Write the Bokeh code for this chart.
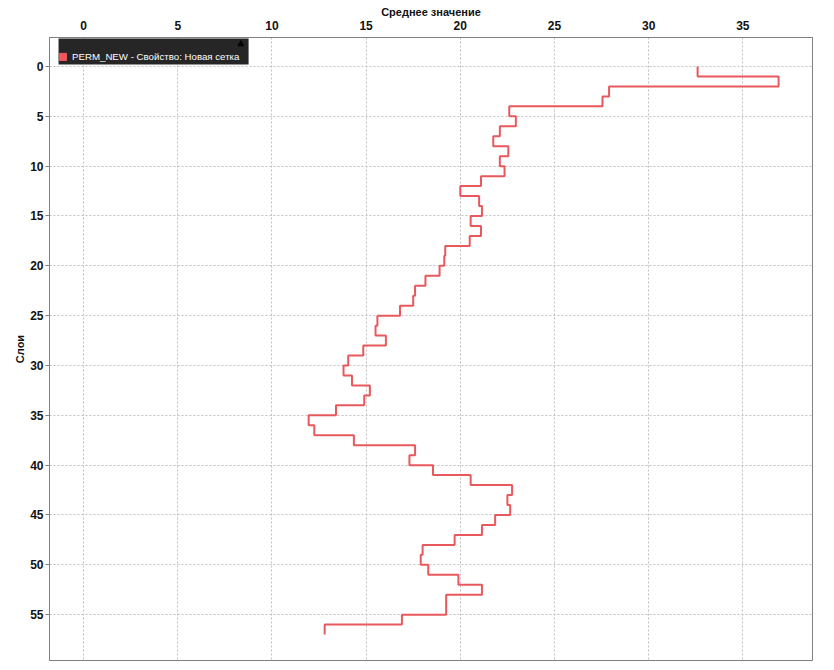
import numpy as np
from bokeh.plotting import figure
from bokeh.models import Range1d, FixedTicker, Legend, LegendItem, BoxAnnotation
from bokeh.embed import file_html
from bokeh.resources import INLINE

# ---- data ----
series_name = "PERM_NEW - Свойство: Новая сетка"
x_title = "Среднее значение"
y_title = "Слои"
x_ticks = [0, 5, 10, 15, 20, 25, 30, 35]
y_ticks = [0, 5, 10, 15, 20, 25, 30, 35, 40, 45, 50, 55]
layer_edges = list(range(0, 58))  # layer boundaries 0..57
mean_values = [
    32.6, 36.9, 27.9, 27.55, 22.6, 22.95, 22.1, 21.75, 22.55, 22.1,
    22.35, 21.1, 20.0, 21.0, 21.15, 20.55, 21.1, 20.5, 19.2, 19.15,
    18.9, 18.15, 17.6, 17.5, 16.8, 15.6, 15.5, 16.05, 14.85, 14.05,
    13.8, 14.25, 15.2, 14.9, 13.4, 11.95, 12.25, 14.35, 17.6, 17.3,
    18.55, 20.55, 22.75, 22.5, 22.65, 21.85, 21.15, 19.7, 18.0, 17.9,
    18.3, 19.9, 21.15, 19.25, 19.25, 16.9, 12.8,
]

# ---- step path (vertical step: each layer spans [edge_i, edge_i+1]) ----
edges = np.array(layer_edges, dtype=float)
vals = np.array(mean_values, dtype=float)
xs = np.repeat(vals, 2)
ys = np.column_stack([edges[:-1], edges[1:]]).ravel()

LINE = "#e8585c"
FONT = "Liberation Sans"

p = figure(
    width=826, height=664,
    x_range=Range1d(-1.81, 38.7),
    y_range=Range1d(59.6, -2.91),
    x_axis_location="above",
    output_backend="svg", toolbar_location=None,
    min_border_left=49, min_border_top=37, min_border_right=14, min_border_bottom=4,
)
p.background_fill_color = "white"
p.border_fill_color = "white"
p.outline_line_color = "#808080"
p.outline_line_width = 1

line_r = p.line(xs, ys, line_color=LINE, line_width=2)
legend_r = p.quad(left=[np.nan], right=[np.nan], bottom=[np.nan], top=[np.nan],
                  fill_color="#f0585e", line_color="#f0585e")

# axes
xa = p.xaxis[0]
xa.ticker = FixedTicker(ticks=x_ticks)
xa.axis_label = x_title
ya = p.yaxis[0]
ya.ticker = FixedTicker(ticks=y_ticks)
ya.axis_label = y_title
for ax in (xa, ya):
    ax.major_label_text_font = FONT
    ax.major_label_text_font_style = "bold"
    ax.major_label_text_font_size = "12px"
    ax.major_label_text_color = "#111111"
    ax.axis_label_text_font = FONT
    ax.axis_label_text_font_style = "bold"
    ax.axis_label_text_font_size = "11px"
    ax.axis_label_text_color = "#111111"
    ax.axis_line_color = "#808080"
    ax.major_tick_line_color = "#808080"
    ax.minor_tick_line_color = None
    ax.major_tick_in = 0
xa.major_tick_out = 0
xa.major_label_standoff = 8
xa.axis_label_standoff = 0
ya.major_tick_out = 4
ya.major_label_standoff = 2
ya.axis_label_standoff = 1

p.xgrid.ticker = FixedTicker(ticks=x_ticks)
p.ygrid.ticker = FixedTicker(ticks=y_ticks)
for g in (p.xgrid[0], p.ygrid[0]):
    g.grid_line_color = "#c0c0c0"
    g.grid_line_dash = "2 2"
    g.grid_line_width = 1

# dark legend panel (decoration behind the transparent legend)
panel = BoxAnnotation(left=-1.33, right=8.76, top=-2.81, bottom=-0.2,
                      fill_color="#262626", fill_alpha=1.0, line_color=None,
                      level="annotation")
p.add_layout(panel)

# small collapse arrow of the legend panel (decoration)
p.scatter(x=[8.35], y=[-2.25], marker="triangle", size=6,
          fill_color="#050505", line_color="#050505", level="overlay")

legend = Legend(
    items=[LegendItem(label=series_name, renderers=[legend_r])],
    location=(9, 598),
    title=" ", title_text_font_size="7px", title_standoff=0,
    background_fill_alpha=0.0,
    border_line_color=None,
    label_text_color="white", label_text_font=FONT,
    label_text_font_size="9.7px",
    glyph_width=9, glyph_height=9, label_standoff=5,
    padding=4, spacing=0, margin=0,
)
p.add_layout(legend)

open("out.html", "w").write(file_html(p, INLINE))
